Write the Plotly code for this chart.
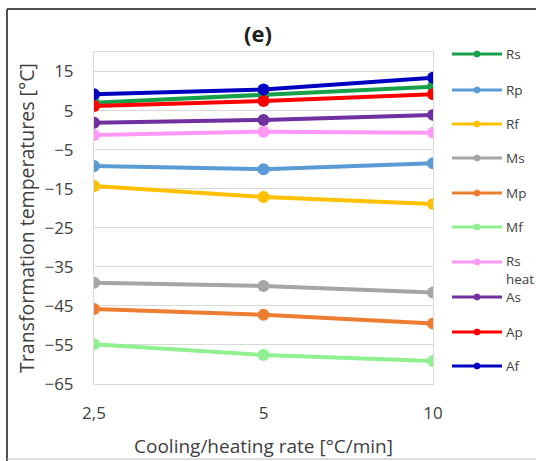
import plotly.graph_objects as go

# Cooling/heating rates (category axis)
rates = ["2,5", "5", "10"]

# Transformation temperatures [°C]
rs = [7.0, 9.0, 11.1]
rp = [-9.2, -10.0, -8.5]
rf = [-14.3, -17.1, -18.9]
ms = [-39.1, -39.9, -41.6]
mp = [-45.8, -47.3, -49.5]
mf = [-54.8, -57.6, -59.1]
rs_heat = [-1.25, -0.4, -0.65]
a_s = [1.9, 2.6, 3.9]
ap = [6.2, 7.45, 9.2]
af = [9.2, 10.4, 13.4]

names = ["Rs", "Rp", "Rf", "Ms", "Mp", "Mf", "Rs heat", "As", "Ap", "Af"]
series = [rs, rp, rf, ms, mp, mf, rs_heat, a_s, ap, af]
colors = ["#17a04a", "#5b9bd5", "#ffc000", "#a5a5a5", "#ed7d31",
          "#90f090", "#ff99f5", "#7030a0", "#ff0000", "#0000c0"]

FONT = "Open Sans"
W, H = 536, 461
L, R, T, B = 94, 433, 52, 384


def px(x):
    return (x - L) / (R - L)


def py(y):
    return (B - y) / (B - T)


fig = go.Figure()
for name, vals, col in zip(names, series, colors):
    fig.add_trace(go.Scatter(
        x=rates, y=vals, mode="lines+markers", name=name,
        line=dict(color=col, width=4),
        marker=dict(color=col, size=12),
        showlegend=False,
    ))

shapes = []
annotations = []


def legend_text(text, y):
    annotations.append(dict(xref="paper", yref="paper", x=px(504), y=py(y),
                            text=text, showarrow=False, xanchor="left",
                            yanchor="middle", align="left",
                            font=dict(family=FONT, size=13.5, color="#404040")))


# Hand-placed legend: line sample with a dot, label to the right
legend_y = [54, 90, 124, 158, 193, 227, 262, 297, 332, 366]
for name, col, ly in zip(names, colors, legend_y):
    shapes.append(dict(type="line", xref="paper", yref="paper",
                       x0=px(452), x1=px(502), y0=py(ly), y1=py(ly),
                       line=dict(color=col, width=3)))
    shapes.append(dict(type="circle", xref="paper", yref="paper",
                       x0=px(474), x1=px(480), y0=py(ly + 3), y1=py(ly - 3),
                       fillcolor=col, line=dict(color=col, width=1)))
    if " " in name:
        first, second = name.split(" ", 1)
        legend_text(first, ly - 1)
        legend_text(second, ly + 17)
    else:
        legend_text(name, ly)

# Outer frame
shapes.append(dict(type="line", xref="paper", yref="paper",
                   x0=px(7), x1=px(7), y0=py(9), y1=py(461),
                   line=dict(color="#505050", width=2)))
shapes.append(dict(type="line", xref="paper", yref="paper",
                   x0=px(7), x1=px(540), y0=py(9), y1=py(9),
                   line=dict(color="#505050", width=2)))
shapes.append(dict(type="line", xref="paper", yref="paper",
                   x0=px(7), x1=px(540), y0=py(459), y1=py(459),
                   line=dict(color="#bdbdbd", width=1)))

# Panel label
annotations.append(dict(xref="paper", yref="paper", x=px(258), y=py(33),
                        text="<b>(e)</b>", showarrow=False,
                        xanchor="center", yanchor="middle",
                        font=dict(family=FONT, size=22, color="#202020")))

fig.update_layout(
    width=W, height=H,
    margin=dict(l=L, r=W - R, t=T, b=H - B, autoexpand=False),
    paper_bgcolor="white", plot_bgcolor="white",
    font=dict(family=FONT, color="#404040"),
    shapes=shapes, annotations=annotations,
    showlegend=False,
)
fig.update_xaxes(
    type="category", range=[0, 2], automargin=False,
    showgrid=False, showline=True, mirror=True, linecolor="#d9d9d9", linewidth=1,
    ticks="", ticklabelstandoff=14, tickfont=dict(size=17, color="#404040"),
    title=dict(text="Cooling/heating rate [°C/min]", standoff=16,
               font=dict(size=19, color="#404040")),
    zeroline=False,
)
fig.update_yaxes(
    range=[-65, 20], tick0=-65, dtick=10, automargin=False,
    showgrid=True, gridcolor="#d9d9d9", gridwidth=1,
    showline=True, mirror=True, linecolor="#d9d9d9", linewidth=1,
    ticks="", ticklabelstandoff=16, tickfont=dict(size=17, color="#404040"),
    title=dict(text="Transformation temperatures [°C]", standoff=4,
               font=dict(size=19.5, color="#404040")),
    zeroline=False,
)

fig.write_html("out.html")
